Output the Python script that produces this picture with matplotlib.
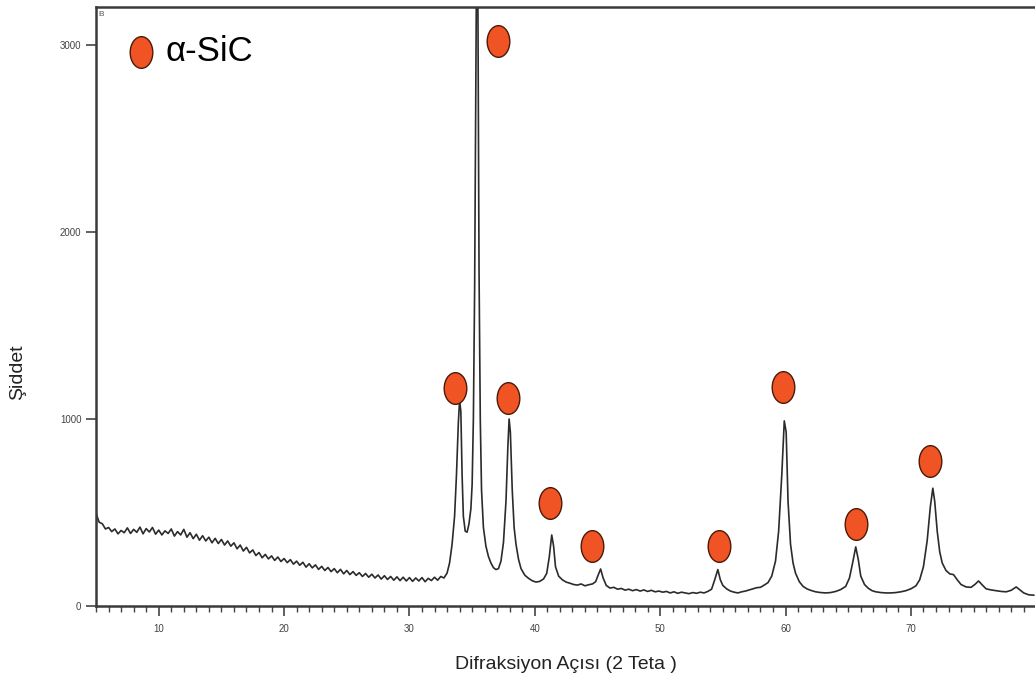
import numpy as np
import matplotlib
matplotlib.use("Agg")
import matplotlib.pyplot as plt
from matplotlib.path import Path
from matplotlib.transforms import Affine2D

plt.rcParams["font.family"] = ["Liberation Sans", "DejaVu Sans"]

# XRD pattern (2 theta, intensity)
two_theta = [
    5.0, 5.25, 5.5, 5.75, 6.0, 6.25, 6.5, 6.75, 7.0, 7.25, 7.5, 7.75, 8.0, 8.25, 8.5, 8.75,
    9.0, 9.25, 9.5, 9.75, 10.0, 10.25, 10.5, 10.75, 11.0, 11.25, 11.5, 11.75, 12.0, 12.25,
    12.5, 12.75, 13.0, 13.25, 13.5, 13.75, 14.0, 14.25, 14.5, 14.75, 15.0, 15.25, 15.5,
    15.75, 16.0, 16.25, 16.5, 16.75, 17.0, 17.25, 17.5, 17.75, 18.0, 18.25, 18.5, 18.75,
    19.0, 19.25, 19.5, 19.75, 20.0, 20.25, 20.5, 20.75, 21.0, 21.25, 21.5, 21.75, 22.0,
    22.25, 22.5, 22.75, 23.0, 23.25, 23.5, 23.75, 24.0, 24.25, 24.5, 24.75, 25.0, 25.25,
    25.5, 25.75, 26.0, 26.25, 26.5, 26.75, 27.0, 27.25, 27.5, 27.75, 28.0, 28.25, 28.5,
    28.75, 29.0, 29.25, 29.5, 29.75, 30.0, 30.25, 30.5, 30.75, 31.0, 31.25, 31.5, 31.75,
    32.0, 32.25, 32.5, 32.75, 33.0,
    33.2, 33.4, 33.6, 33.75, 33.9, 34.0, 34.1, 34.2, 34.3, 34.45, 34.6, 34.75, 34.9, 35.0,
    35.1, 35.2, 35.3, 35.35, 35.45, 35.55, 35.65, 35.75, 35.9, 36.1, 36.3, 36.5, 36.7, 36.9,
    37.1, 37.3, 37.5, 37.7, 37.85, 37.95, 38.05, 38.2, 38.35, 38.5, 38.7, 38.9, 39.2, 39.5,
    39.8, 40.1, 40.4, 40.7, 40.95, 41.15, 41.35, 41.5, 41.65, 41.9, 42.2, 42.5, 42.8, 43.1,
    43.4, 43.7, 44.0, 44.3, 44.6, 44.85, 45.05, 45.25, 45.45, 45.7, 46.0, 46.3, 46.6, 46.9,
    47.2, 47.5, 47.8, 48.1, 48.4, 48.7, 49.0, 49.3, 49.6, 49.9, 50.2, 50.5, 50.8, 51.1, 51.4,
    51.7, 52.0, 52.3, 52.6, 52.9, 53.2, 53.5, 53.8, 54.1, 54.35, 54.6, 54.8, 55.0, 55.3,
    55.6, 55.9, 56.2, 56.5, 56.8, 57.1, 57.4, 57.7, 58.0, 58.3, 58.6, 58.9, 59.2, 59.45,
    59.7, 59.9, 60.05, 60.2, 60.4, 60.6, 60.8, 61.1, 61.4, 61.7, 62.0, 62.4, 62.8, 63.2,
    63.6, 64.0, 64.4, 64.8, 65.1, 65.35, 65.6, 65.8, 66.0, 66.3, 66.6, 66.9, 67.2, 67.6,
    68.0, 68.4, 68.8, 69.2, 69.6, 70.0, 70.4, 70.7, 71.0, 71.3, 71.55, 71.75, 71.9, 72.1,
    72.3, 72.5, 72.8, 73.1, 73.4, 73.7, 74.0, 74.4, 74.8, 75.1, 75.4, 75.7, 76.0, 76.4,
    76.8, 77.2, 77.6, 78.0, 78.4, 78.7, 79.0, 79.4, 79.8,
]
intensity = [
    495, 448, 440, 412, 420, 398, 412, 386, 404, 392, 418, 388, 410, 394, 422, 386,
    414, 396, 420, 384, 406, 380, 402, 388, 412, 374, 398, 380, 410, 368,
    392, 360, 384, 352, 376, 348, 368, 338, 362, 334, 356, 326, 348,
    320, 338, 306, 326, 294, 314, 284, 300, 270, 286, 258, 276, 252,
    268, 244, 262, 238, 254, 232, 248, 224, 240, 218, 234, 208, 226,
    204, 220, 196, 212, 190, 206, 184, 200, 178, 196, 172, 190, 168,
    184, 164, 178, 158, 174, 154, 170, 150, 166, 144, 162, 142, 158,
    138, 156, 136, 154, 134, 152, 132, 150, 134, 152, 130, 148, 136,
    154, 138, 158, 150, 176,
    230, 330, 480, 700, 980, 1100, 1040, 700, 480, 400, 395, 440, 520, 650,
    1000, 1700, 2900, 3400, 3400, 1800, 1000, 620, 420, 320, 265, 230, 205, 195,
    200, 240, 340, 560, 850, 1000, 930, 620, 420, 330, 250, 200, 165, 148,
    135, 128, 132, 145, 175, 260, 380, 320, 210, 160, 140, 128, 122, 115,
    112, 118, 108, 114, 118, 130, 165, 198, 150, 110, 96, 100, 90, 94,
    85, 90, 82, 88, 80, 86, 78, 84, 76, 80, 74, 78, 70, 76, 68,
    74, 70, 66, 72, 68, 74, 70, 78, 90, 140, 195, 140, 110, 92,
    80, 74, 70, 76, 80, 86, 92, 98, 100, 112, 125, 160, 240, 400,
    700, 990, 930, 560, 330, 230, 175, 130, 105, 92, 84, 76, 72, 70,
    72, 78, 88, 105, 150, 230, 316, 250, 160, 115, 95, 82, 76, 72,
    70, 70, 72, 76, 82, 92, 108, 140, 210, 350, 530, 630, 560, 400,
    290, 230, 190, 172, 168, 140, 115, 102, 100, 115, 134, 112, 92, 86,
    82, 78, 76, 84, 102, 86, 70, 60, 58,
]

# alpha-SiC peak markers
marker_x = [37.1, 33.67, 37.89, 41.24, 44.58, 54.70, 59.80, 65.62, 71.51]
marker_y = [3021, 1166, 1112, 551, 321, 321, 1171, 439, 775]

ellipse = Path.unit_circle().transformed(Affine2D().scale(1.0, 1.4))

fig = plt.figure(figsize=(10.35, 6.84), dpi=100)
ax = fig.add_axes([0.0928, 0.114, 0.9072, 0.8757])

ax.plot(two_theta, intensity, color="#2b2b2b", linewidth=1.2)
ax.scatter(marker_x, marker_y, marker=ellipse, s=520, color="#f05424",
           edgecolor="#4a1a08", linewidth=1.0, zorder=3, label="α-SiC")

ax.set_xlim(5, 79.9)
ax.set_ylim(0, 3203)
ax.set_xticks(np.arange(10, 80, 10))
ax.set_xticks(np.arange(5, 80, 1), minor=True)
ax.set_yticks([0, 1000, 2000, 3000])
ax.tick_params(axis="both", which="major", direction="out", length=7, width=1.2,
               labelsize=7, labelcolor="#444444", color="#444444")
ax.tick_params(axis="x", which="minor", direction="out", length=4, width=1.0, color="#444444")
ax.tick_params(axis="x", which="major", pad=6)

for side in ["left", "bottom", "top"]:
    ax.spines[side].set_linewidth(1.8)
    ax.spines[side].set_color("#3a3a3a")
ax.spines["right"].set_visible(False)

ax.set_xlabel("Difraksiyon Açısı (2 Teta )", fontsize=14, color="#222222", labelpad=16)
ax.set_ylabel("Şiddet", fontsize=14, color="#222222")
ax.yaxis.set_label_coords(-0.0745, 0.39)

ax.text(0.003, 0.993, "B", transform=ax.transAxes, fontsize=6, color="#555555",
        ha="left", va="top")

ax.legend(loc="upper left", bbox_to_anchor=(0.0107, 0.977), frameon=False, fontsize=25,
          handlelength=1.2, handletextpad=0.1, borderaxespad=0)

fig.savefig("out.png", dpi=100)
